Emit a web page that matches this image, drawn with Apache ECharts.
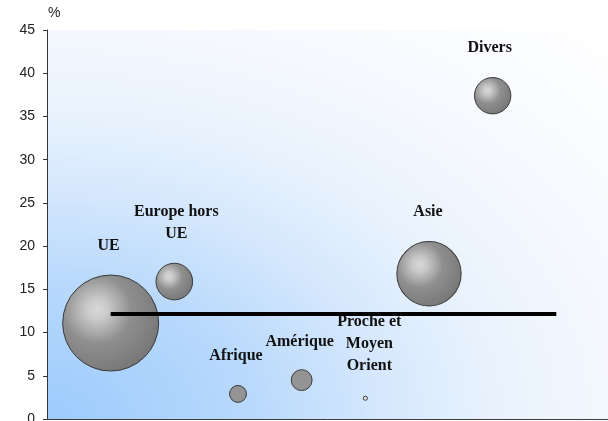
<!DOCTYPE html>
<html>
<head>
<meta charset="utf-8">
<script src="https://cdn.jsdelivr.net/npm/echarts@6/dist/echarts.min.js"></script>
<style>
  html, body { margin: 0; padding: 0; background: #ffffff; }
  #chart { width: 608px; height: 421px; }
</style>
</head>
<body>
<div id="chart"></div>
<script>
// Zones, taux (%) et poids relatifs (taille des bulles)
var zones = ['UE', 'Europe hors\nUE', 'Afrique', 'Amérique', 'Proche et\nMoyen\nOrient', 'Asie', 'Divers'];
var taux = [11.1, 15.9, 2.9, 4.5, 2.4, 16.8, 37.4];
var poids = [55, 8.0, 1.7, 2.6, 0.1, 24.7, 7.9];
var moyenne = 12.15;
var moyenneDebut = 1;
var moyenneFin = 8;
var yTicks = [0, 5, 10, 15, 20, 25, 30, 35, 40, 45];

// Décalage des étiquettes par rapport au centre des bulles
var labelOffsets = [[-2, -77], [2, -59], [-2, -38], [-2, -38], [4, -54], [-1, -62], [-3, -48]];

// Zone de tracé (px)
var plot = { left: 47, top: 30, width: 573, height: 389 };

var bubbleScale = 96 / Math.sqrt(55);

function bubbleFill(d) {
  if (d < 8) return '#e4e4e4';
  if (d < 25) return '#949494';
  return {
    type: 'radial', x: 0.36, y: 0.36, r: 0.7,
    colorStops: [
      { offset: 0, color: '#d8d8d8' },
      { offset: 0.15, color: '#cacaca' },
      { offset: 0.35, color: '#a9a9a9' },
      { offset: 0.5, color: '#8f8f8f' },
      { offset: 1, color: '#767676' }
    ]
  };
}

var bubbles = zones.map(function (name, i) {
  var d = bubbleScale * Math.sqrt(poids[i]);
  return {
    name: name,
    value: [i + 1, taux[i], poids[i]],
    symbolSize: d,
    itemStyle: { color: bubbleFill(d) },
    label: { offset: labelOffsets[i] }
  };
});

var chart = echarts.init(document.getElementById('chart'), null, { renderer: 'canvas' });
chart.setOption({
  animation: false,
  backgroundColor: '#ffffff',
  // Fond dégradé depuis le coin inférieur gauche (contours elliptiques)
  graphic: {
    elements: [{
      type: 'rect',
      silent: true,
      z: -10,
      x: plot.left,
      y: plot.top,
      scaleX: plot.width / plot.height,
      shape: { x: 0, y: 0, width: plot.height, height: plot.height },
      style: {
        fill: {
          type: 'radial', x: 0, y: 1, r: 1.414,
          colorStops: [
            { offset: 0, color: '#9ccbfc' },
            { offset: 0.25, color: '#b8d9fc' },
            { offset: 0.42, color: '#d6e8fd' },
            { offset: 0.55, color: '#e8f2fd' },
            { offset: 0.7, color: '#f4f8fe' },
            { offset: 0.9, color: '#fcfdff' },
            { offset: 1, color: '#ffffff' }
          ]
        }
      }
    }]
  },
  grid: {
    left: plot.left, top: plot.top, width: plot.width, height: plot.height,
    outerBoundsMode: 'none',
    containLabel: false,
    show: false
  },
  xAxis: {
    type: 'value', min: 0, max: 9,
    axisLine: { show: true, lineStyle: { color: '#3c3c3c', width: 1 } },
    axisTick: { show: false },
    axisLabel: { show: false },
    splitLine: { show: false }
  },
  yAxis: {
    type: 'value', min: yTicks[0], max: yTicks[yTicks.length - 1], interval: 5,
    name: '%', nameLocation: 'end', nameGap: 10,
    nameTextStyle: { color: '#222', fontFamily: 'Liberation Sans', fontSize: 14, align: 'left', padding: [0, 0, 0, 1] },
    axisLine: { show: true, lineStyle: { color: '#333333', width: 1 } },
    axisTick: { show: true, inside: false, length: 4, lineStyle: { color: '#333333' } },
    axisLabel: { color: '#222', fontFamily: 'Liberation Sans', fontSize: 14, margin: 12 },
    splitLine: { show: false }
  },
  series: [
    {
      type: 'scatter',
      data: bubbles,
      itemStyle: { borderColor: '#3a3a3a', borderWidth: 1, opacity: 1 },
      label: {
        show: true, position: 'inside',
        formatter: function (p) { return p.name; },
        color: '#111', fontFamily: 'Liberation Serif', fontWeight: 'bold',
        fontSize: 16, lineHeight: 22, align: 'center', verticalAlign: 'middle'
      },
      emphasis: { disabled: true },
      z: 2
    },
    {
      type: 'line',
      data: [[moyenneDebut, moyenne], [moyenneFin, moyenne]],
      symbol: 'none',
      lineStyle: { color: '#000000', width: 4, cap: 'butt' },
      emphasis: { disabled: true },
      z: 3
    }
  ]
});
</script>
</body>
</html>
